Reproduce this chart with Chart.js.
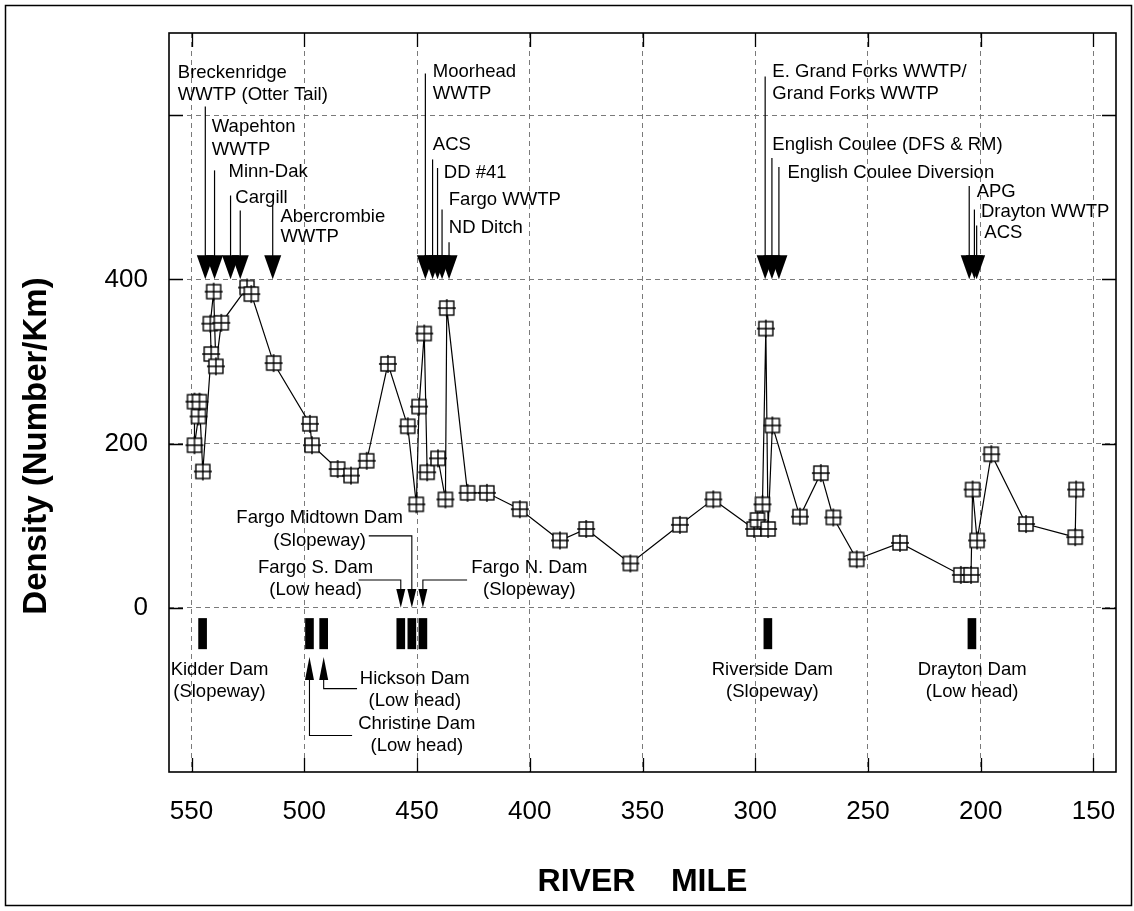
<!DOCTYPE html>
<html>
<head>
<meta charset="utf-8">
<script src="https://cdn.jsdelivr.net/npm/chart.js@4.4.1/dist/chart.umd.min.js"></script>
<style>
  html, body { margin: 0; padding: 0; background: #fff; }
  #wrap { position: relative; width: 1134px; height: 911px; }
  canvas { display: block; }
</style>
</head>
<body>
<div id="wrap"><canvas id="chart" width="1134" height="911"></canvas></div>
<script>
// ---- survey data: river mile and density (number / km), in survey order ----
const riverMile = [
  548.7, 548.7, 546.9, 546.5, 545.0, 541.3, 541.7, 540.2, 539.2, 536.8,
  525.4, 523.5, 513.6, 497.5, 496.6, 485.2, 479.3, 472.3, 462.9, 454.1,
  450.3, 449.1, 446.8, 445.5, 440.7, 437.4, 436.8, 427.6, 419.0, 404.4,
  386.6, 375.0, 355.4, 333.4, 318.6, 300.5, 299.0, 296.8, 295.3, 294.3,
  292.4, 280.2, 270.9, 265.4, 255.0, 235.8, 208.8, 204.3, 203.6, 201.6,
  195.3, 179.9, 158.1, 157.7
];
const density = [
  251, 198, 233, 251, 166, 309, 346, 385, 294, 347,
  390, 382, 298, 224, 198, 169, 161, 179, 297, 221,
  126, 245, 334, 165, 182, 132, 365, 140, 140, 120,
  82, 96, 54, 101, 132, 96, 107, 126, 340, 96,
  222, 111, 164, 110, 59, 79, 40, 40, 144, 82,
  187, 102, 86, 144
];

// ---- axis ticks ----
const xTickValues = [550, 500, 450, 400, 350, 300, 250, 200, 150];
const yGridValues = [0, 200, 400, 600];
const yTickLabels = [0, 200, 400];

// ---- discharge points (arrow tips sit on density 400) ----
const dischargeNames = [
  ['Breckenridge', 'WWTP (Otter Tail)'],
  ['Wapehton', 'WWTP'],
  ['Minn-Dak'],
  ['Cargill'],
  ['Abercrombie', 'WWTP'],
  ['Moorhead', 'WWTP'],
  ['ACS'],
  ['DD #41'],
  ['Fargo WWTP'],
  ['ND Ditch'],
  ['E. Grand Forks WWTP/', 'Grand Forks WWTP'],
  ['English Coulee (DFS & RM)'],
  ['English Coulee Diversion'],
  ['APG'],
  ['Drayton WWTP'],
  ['ACS']
];
const dischargeMiles = [543.9, 539.8, 532.7, 528.4, 514.0, 446.3, 443.1, 440.9, 438.9, 435.8,
                        295.6, 292.6, 289.5, 205.1, 202.8, 201.8];

// ---- dams ----
const damNames = [
  ['Kidder Dam', '(Slopeway)'],
  ['Christine Dam', '(Low head)'],
  ['Hickson Dam', '(Low head)'],
  ['Fargo S. Dam', '(Low head)'],
  ['Fargo Midtown Dam', '(Slopeway)'],
  ['Fargo N. Dam', '(Slopeway)'],
  ['Riverside Dam', '(Slopeway)'],
  ['Drayton Dam', '(Low head)']
];
const damMiles = [545.1, 497.7, 491.4, 457.2, 452.3, 447.4, 294.4, 203.9];
const damBarRange = [-50, -13];

// ---- callout layout (river mile / density coordinates for text and leader lines) ----
const dischargeLayout = [
  { textX: 556.1, textY: [652.0, 624.3], lineTop: 610.5 },
  { textX: 541.0, textY: [585.8, 557.1], lineTop: 532.7 },
  { textX: 533.6, textY: [530.7], lineTop: 502.1 },
  { textX: 530.6, textY: [499.3], lineTop: 483.8 },
  { textX: 510.6, textY: [475.7, 451.3], lineTop: 489.9 },
  { textX: 443.0, textY: [653.2, 626.4], lineTop: 650.8 },
  { textX: 443.0, textY: [564.1], lineTop: 546.0 },
  { textX: 438.1, textY: [529.9], lineTop: 535.6 },
  { textX: 435.9, textY: [496.9], lineTop: 485.0 },
  { textX: 435.9, textY: [463.0], lineTop: 445.2 },
  { textX: 292.4, textY: [653.2, 626.4], lineTop: 647.1 },
  { textX: 292.4, textY: [563.2], lineTop: 547.8 },
  { textX: 285.7, textY: [529.5], lineTop: 536.8 },
  { textX: 201.8, textY: [507.0], lineTop: 513.6 },
  { textX: 199.9, textY: [481.9], lineTop: 485.0 },
  { textX: 198.4, textY: [456.6], lineTop: 465.5 }
];
// dam labels are centred; "arrow" describes the leader for labels placed away from the bar
const damLayout = [
  { textX: 537.6, textY: [-75.3, -102.6] },
  { textX: 450.1, textY: [-141.2, -168.6], arrow: { dir: 'up', tip: -60, base: -88, elbowY: -155.6, endX: 478.8 } },
  { textX: 451.0, textY: [-87.2, -114.0], arrow: { dir: 'up', tip: -60, base: -88, elbowY: -98.5, endX: 476.6 } },
  { textX: 495.0, textY: [48.1, 21.6], arrow: { dir: 'down', tip: 0, base: 23, elbowY: 33.8, endX: 475.9 } },
  { textX: 493.2, textY: [108.9, 81.5], arrow: { dir: 'down', tip: 0, base: 23, elbowY: 87.6, endX: 471.4 } },
  { textX: 400.2, textY: [48.1, 21.6], arrow: { dir: 'down', tip: 0, base: 23, elbowY: 33.8, endX: 427.8 } },
  { textX: 292.4, textY: [-75.3, -102.6] },
  { textX: 203.8, textY: [-75.3, -102.6] }
];

const FONT = '"Liberation Sans", Arial, Helvetica, sans-serif';

// square marker with a cross through it
function makeMarker() {
  const s = 20, c = document.createElement('canvas');
  c.width = s; c.height = s;
  const g = c.getContext('2d');
  const m = 10, h = 7;
  g.fillStyle = '#fff';
  g.fillRect(m - h, m - h, 2 * h, 2 * h);
  g.strokeStyle = '#000';
  g.lineWidth = 1.4;
  g.strokeRect(m - h, m - h, 2 * h, 2 * h);
  g.beginPath();
  g.moveTo(m, m - h - 2); g.lineTo(m, m + h + 2);
  g.moveTo(m - h - 2, m); g.lineTo(m + h + 2, m);
  g.stroke();
  return c;
}

const calloutPlugin = {
  id: 'callouts',
  afterDraw(chart) {
    const { ctx, chartArea: a } = chart;
    const xs = chart.scales.x, ys = chart.scales.y;
    const px = v => xs.getPixelForValue(v);
    const py = v => ys.getPixelForValue(v);
    ctx.save();

    // inward tick marks on all four sides
    ctx.strokeStyle = '#000';
    ctx.lineWidth = 1.3;
    ctx.beginPath();
    xs.ticks.forEach(t => {
      const x = Math.round(px(t.value)) + 0.5;
      ctx.moveTo(x, a.top); ctx.lineTo(x, a.top + 14);
      ctx.moveTo(x, a.bottom); ctx.lineTo(x, a.bottom - 14);
    });
    ys.ticks.forEach(t => {
      const y = Math.round(py(t.value)) + 0.5;
      ctx.moveTo(a.left, y); ctx.lineTo(a.left + 14, y);
      ctx.moveTo(a.right, y); ctx.lineTo(a.right - 14, y);
    });
    ctx.stroke();

    // plot frame
    ctx.lineWidth = 1.6;
    ctx.strokeRect(a.left, a.top, a.right - a.left, a.bottom - a.top);

    // discharge arrows and their labels
    ctx.fillStyle = '#000';
    ctx.font = '18.5px ' + FONT;
    ctx.textBaseline = 'middle';
    ctx.textAlign = 'left';
    const tipY = py(400);
    dischargeMiles.forEach((m, i) => {
      const L = dischargeLayout[i];
      const x = px(m);
      ctx.lineWidth = 1.2;
      ctx.beginPath();
      ctx.moveTo(x, py(L.lineTop));
      ctx.lineTo(x, tipY - 20);
      ctx.stroke();
      ctx.beginPath();
      ctx.moveTo(x - 8.5, tipY - 24);
      ctx.lineTo(x + 8.5, tipY - 24);
      ctx.lineTo(x, tipY);
      ctx.closePath();
      ctx.fill();
      dischargeNames[i].forEach((line, k) => ctx.fillText(line, px(L.textX), py(L.textY[k])));
    });

    // dam labels and leaders
    ctx.textAlign = 'center';
    damMiles.forEach((m, i) => {
      const L = damLayout[i];
      damNames[i].forEach((line, k) => ctx.fillText(line, px(L.textX), py(L.textY[k])));
      const A = L.arrow;
      if (!A) return;
      const x = px(m);
      const tip = py(A.tip), base = py(A.base);
      ctx.beginPath();
      ctx.moveTo(x - 4.5, base);
      ctx.lineTo(x + 4.5, base);
      ctx.lineTo(x, tip);
      ctx.closePath();
      ctx.fill();
      ctx.lineWidth = 1.1;
      ctx.beginPath();
      ctx.moveTo(x, base);
      ctx.lineTo(x, py(A.elbowY));
      ctx.lineTo(px(A.endX), py(A.elbowY));
      ctx.stroke();
    });

    // axis titles
    ctx.font = 'bold 32px ' + FONT;
    ctx.textAlign = 'center';
    ctx.fillText('RIVER    MILE', (a.left + a.right) / 2, 882);
    ctx.font = 'bold 33px ' + FONT;
    ctx.translate(37, 446);
    ctx.rotate(-Math.PI / 2);
    ctx.fillText('Density (Number/Km)', 0, 0);
    ctx.restore();

    // outer frame
    ctx.save();
    ctx.strokeStyle = '#000';
    ctx.lineWidth = 1.5;
    ctx.strokeRect(5.5, 5.5, 1126, 900);
    ctx.restore();
  }
};

new Chart(document.getElementById('chart'), {
  type: 'line',
  data: {
    datasets: [
      {
        type: 'line',
        data: riverMile.map((m, i) => ({ x: m, y: density[i] })),
        borderColor: '#000',
        borderWidth: 1.2,
        pointStyle: makeMarker(),
        pointRadius: 7,
        pointHoverRadius: 7,
        tension: 0,
        fill: false,
        order: 1
      },
      {
        type: 'bar',
        data: damMiles.map(m => ({ x: m, y: damBarRange.slice() })),
        backgroundColor: '#000',
        borderWidth: 0,
        barThickness: 8,
        grouped: false,
        order: 2
      }
    ]
  },
  options: {
    responsive: false,
    animation: false,
    events: [],
    layout: { padding: { left: 0, top: 33, right: 18, bottom: 0 } },
    plugins: { legend: { display: false }, tooltip: { enabled: false }, title: { display: false } },
    scales: {
      x: {
        type: 'linear',
        reverse: true,
        min: 140, max: 560,
        offset: false,
        afterBuildTicks: s => { s.ticks = xTickValues.map(v => ({ value: v })); },
        afterFit: s => { s.height = 139; s.paddingLeft = 0; s.paddingRight = 0; },
        ticks: { font: { family: FONT, size: 26 }, color: '#000', padding: 24, maxRotation: 0, autoSkip: false },
        grid: { color: '#7a7a7a', lineWidth: 1, drawTicks: false, offset: false },
        border: { display: false, dash: [5, 4] }
      },
      y: {
        type: 'linear',
        min: -200, max: 700,
        afterBuildTicks: s => { s.ticks = yGridValues.map(v => ({ value: v })); },
        afterFit: s => { s.width = 169; s.paddingTop = 0; s.paddingBottom = 0; },
        ticks: {
          font: { family: FONT, size: 26 }, color: '#000', padding: 21,
          callback: v => (yTickLabels.includes(v) ? String(v) : '')
        },
        grid: { color: '#7a7a7a', lineWidth: 1, drawTicks: false, offset: false },
        border: { display: false, dash: [5, 4] }
      }
    }
  },
  plugins: [calloutPlugin]
});
</script>
</body>
</html>
